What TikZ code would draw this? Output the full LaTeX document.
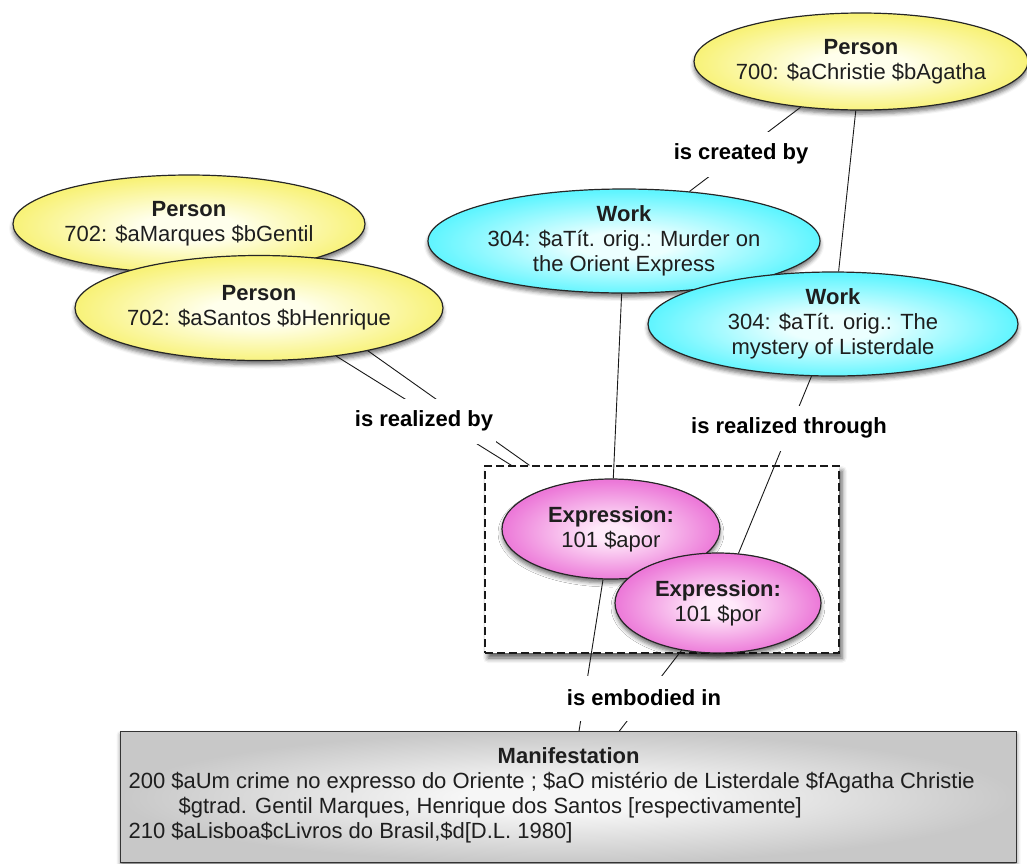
\documentclass[tikz,border=0pt]{standalone}
\usepackage{fontspec}
\setmainfont{Liberation Sans}
\usetikzlibrary{shapes.geometric,shadows.blur}

\definecolor{yelOut}{RGB}{248,242,120}
\definecolor{yelIn}{RGB}{255,255,236}
\definecolor{cyaOut}{RGB}{95,245,255}
\definecolor{cyaIn}{RGB}{236,255,255}
\definecolor{pinOut}{RGB}{236,120,216}
\definecolor{pinIn}{RGB}{255,234,250}
\definecolor{gryOut}{RGB}{200,200,200}
\definecolor{gryIn}{RGB}{246,246,246}
\definecolor{txt}{RGB}{30,30,30}

\pgfdeclareradialshading{yelshade}{\pgfpoint{0bp}{-2bp}}{color(0bp)=(yelIn); color(7bp)=(yelIn); color(25bp)=(yelOut); color(50bp)=(yelOut)}
\pgfdeclareradialshading{cyashade}{\pgfpoint{0bp}{-2bp}}{color(0bp)=(cyaIn); color(6bp)=(cyaIn); color(25bp)=(cyaOut); color(50bp)=(cyaOut)}
\pgfdeclareradialshading{pinshade}{\pgfpoint{0bp}{-2bp}}{color(0bp)=(pinIn); color(4bp)=(pinIn); color(25bp)=(pinOut); color(50bp)=(pinOut)}
\pgfdeclareradialshading{gryshade}{\pgfpoint{0bp}{0bp}}{color(0bp)=(gryIn); color(6bp)=(gryIn); color(25bp)=(gryOut); color(50bp)=(gryOut)}

\tikzset{
  basefont/.style={font=\fontsize{22pt}{25pt}\selectfont},
  ent/.style={ellipse, draw=black!85, line width=1.2pt, inner sep=-30pt,
    align=center, basefont, text=txt,
    blur shadow={shadow xshift=0pt, shadow yshift=-4pt, shadow blur radius=4pt, shadow opacity=55}},
  person/.style={ent, shading=yelshade},
  work/.style={ent, shading=cyashade},
  expr/.style={ent, shading=pinshade},
  rel/.style={font=\bfseries\fontsize{22pt}{25pt}\selectfont, fill=white,
    inner xsep=3pt, inner ysep=2pt, minimum height=45pt, text=black},
  conn/.style={draw=black!90, line width=0.9pt},
  groupbox/.style={rectangle, draw=black!90, line width=1.4pt, dash pattern=on 8pt off 4pt,
    fill=white, minimum width=354pt, minimum height=187pt,
    blur shadow={shadow xshift=3pt, shadow yshift=-5pt, shadow blur radius=5pt, shadow opacity=65}},
  manifbox/.style={rectangle, draw=black!80, line width=1.2pt, shading=gryshade,
    basefont, text=txt,
    inner xsep=7pt, inner ysep=14pt, minimum width=896pt, minimum height=131pt,
    blur shadow={shadow xshift=0pt, shadow yshift=-3pt, shadow blur radius=4pt, shadow opacity=55}}
}

\begin{document}
\begin{tikzpicture}[x=1pt, y=-1pt]
\useasboundingbox (0,0) rectangle (1027,863);

% group box of expressions (drawn first, below everything)
\node[groupbox] (ebox) at (662,559.5) {};

% persons
\node[person, minimum width=334pt, minimum height=97pt] (christie) at (861,61.5)
  {\textbf{Person}\\700: \$aChristie \$bAgatha};
\node[person, minimum width=352pt, minimum height=98pt] (gentil) at (189,224)
  {\textbf{Person}\\702: \$aMarques \$bGentil};

% this connector passes behind the Santos ellipse
\draw[conn] (gentil) -- (ebox);

\node[person, minimum width=368pt, minimum height=105pt] (santos) at (259,308)
  {\textbf{Person}\\702: \$aSantos \$bHenrique};

% works
\node[work, minimum width=392pt, minimum height=104pt] (orient) at (624,241)
  {\textbf{Work}\\304: \$aTít. orig.: Murder on\\the Orient Express};
\node[work, minimum width=370pt, minimum height=104pt] (lister) at (833,324)
  {\textbf{Work}\\304: \$aTít. orig.: The\\mystery of Listerdale};

% expressions
\node[expr, minimum width=218pt, minimum height=100pt] (apor) at (611,529)
  {\textbf{Expression:}\\101 \$apor};
\node[expr, minimum width=206pt, minimum height=100pt] (por) at (718,603)
  {\textbf{Expression:}\\101 \$por};

% manifestation
\node[manifbox, anchor=north west] (manif) at (120,731)
  {\parbox[t][100pt][t]{880pt}{\centering\textbf{Manifestation}\par\raggedright
   200 \$aUm crime no expresso do Oriente ; \$aO mistério de Listerdale \$fAgatha Christie\\
   \hspace*{50pt}\$gtrad. Gentil Marques, Henrique dos Santos [respectivamente]\\
   210 \$aLisboa\$cLivros do Brasil,\$d[D.L. 1980]}};

% connectors
\draw[conn] (christie) -- (orient);
\draw[conn] (christie) -- (lister);
\draw[conn] (orient) -- (apor);
\draw[conn] (lister) -- (por);
\draw[conn] (santos) -- (ebox);
\draw[conn] (apor) -- (manif);
\draw[conn] (por) -- (manif);

% relationship labels
\node[rel] (lcreated) at (741,154) {is created by};
\node[rel] (lrealby) at (424,421) {is realized by};
\node[rel] (lrealthr) at (789,428) {is realized through};
\node[rel] (lembod) at (644,698) {is embodied in};
\end{tikzpicture}
\end{document}
